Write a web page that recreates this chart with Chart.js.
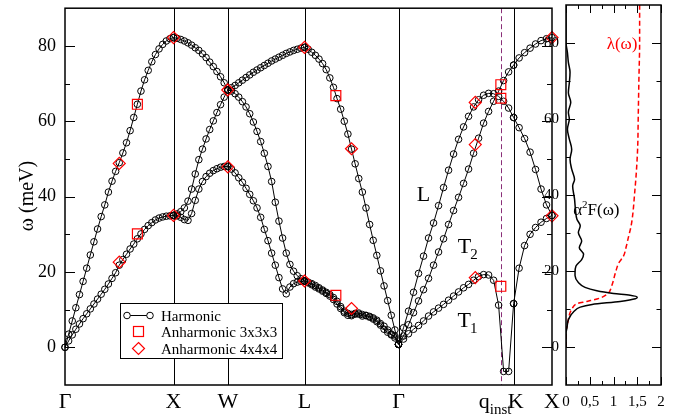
<!DOCTYPE html>
<html>
<head>
<meta charset="utf-8">
<script src="https://cdn.jsdelivr.net/npm/chart.js@4.4.1/dist/chart.umd.min.js"></script>
<style>
  body { margin: 0; background: #fff; }
  #wrap { position: relative; width: 687px; height: 416px; }
  #wrap canvas { position: absolute; left: 0; top: 0; }
</style>
</head>
<body>
<div id="wrap">
  <canvas id="main" width="687" height="416"></canvas>
  <canvas id="side" width="687" height="416"></canvas>
</div>
<script>
// high symmetry path (units of 2pi/a)
const symLabels = ['Γ', 'X', 'W', 'L', 'Γ', 'K', 'X'];
const symQ = [0, 1, 1.5, 2.2071, 3.0731, 4.1338, 4.4874];
const qInst = 4.0159;

const yMajor = [0, 20, 40, 60, 80];
const yMinor = [10, 30, 50, 70];
const sideXMajor = [0, 0.5, 1, 1.5, 2];
const sideXMinor = [0.25, 0.75, 1.25, 1.75];

// harmonic phonons, meV, one list per segment and branch
const gxL = [0, 3.5, 7, 10.5, 14, 17.5, 21, 24.5, 28, 31.4, 34.7, 37.8, 41.2, 44.1, 46.7, 49.0, 51.6, 54.3, 57.5, 61.0, 64.5, 68.0, 71.0, 73.5, 75.8, 77.7, 79.2, 80.4, 81.3, 81.9, 82.2];
const gxT = [0, 1.7, 3.3, 4.8, 6.2, 7.6, 8.9, 10.2, 11.5, 12.8, 14.1, 15.4, 16.8, 18.3, 19.8, 21.8, 23.3, 24.7, 26.1, 27.4, 28.8, 30.1, 31.3, 32.3, 33.1, 33.8, 34.3, 34.6, 34.8, 34.9, 35.0];

const xwL = [82.2, 82.0, 81.7, 81.3, 80.8, 80.2, 79.5, 78.8, 77.9, 76.9, 75.7, 74.5, 73.2, 71.8, 70.2, 68.3];
const xwT2 = [35.0, 35.4, 36.0, 37.0, 38.8, 42.0, 46.0, 49.8, 52.6, 55.3, 57.8, 60.1, 62.3, 64.4, 66.4, 68.3];
const xwT1 = [35.0, 34.9, 34.5, 33.9, 33.7, 35.5, 39.0, 42.0, 44.0, 45.3, 46.2, 46.9, 47.4, 47.8, 48.0, 48.0];

const wlUp = [68.3, 68.9, 69.5, 70.2, 70.9, 71.6, 72.3, 73.0, 73.6, 74.2, 74.8, 75.4, 76.0, 76.5, 77.0, 77.5, 78.0, 78.4, 78.8, 79.1, 79.4, 79.6];
const wlDown = [68.3, 68.0, 67.3, 66.4, 65.2, 63.8, 62.0, 59.8, 57.3, 54.6, 51.5, 48.0, 44.0, 38.5, 33.5, 29.0, 25.0, 22.0, 20.2, 19.0, 18.2, 17.6];
const wlDome = [48.0, 47.3, 46.3, 45.0, 43.8, 42.2, 40.6, 38.9, 37.0, 34.5, 31.3, 28.3, 25.0, 21.8, 18.5, 15.5, 14.2, 16.0, 16.9, 17.3, 17.5, 17.6];

const lgL = [79.6, 79.1, 78.3, 77.5, 76.5, 75.3, 73.7, 71.5, 69.0, 66.0, 63.2, 60.0, 56.6, 52.6, 48.7, 44.8, 41.2, 37.0, 32.6, 28.4, 24.4, 20.3, 16.3, 12.4, 8.5, 4.6, 0.8];
const lgT1 = [17.6, 17.3, 16.9, 16.4, 15.8, 15.2, 14.6, 14.0, 13.2, 12.2, 10.8, 9.6, 9.0, 8.7, 9.0, 9.1, 8.7, 8.5, 8.2, 7.8, 7.2, 6.3, 5.6, 4.6, 3.5, 2.5, 0.8];
const lgT2 = [17.6, 17.1, 16.6, 16.0, 15.5, 14.9, 14.3, 13.6, 12.7, 11.5, 10.3, 9.2, 8.5, 8.4, 8.8, 8.8, 8.3, 8.4, 8.0, 7.5, 6.8, 5.9, 4.8, 4.0, 3.3, 3.0, 0.8];

const gkL = [0.8, 5.2, 9.6, 14.6, 19.6, 24.2, 29.0, 33.0, 37.6, 42.4, 47.0, 51.3, 55.2, 58.5, 61.3, 63.8, 65.7, 66.9, 67.4, 67.3, 66.6, 65.3, 63.5, 61.0];
const gkT2 = [0.8, 3.0, 6.0, 9.2, 12.3, 15.3, 18.3, 21.8, 25.3, 28.8, 32.6, 36.3, 39.8, 43.5, 47.3, 51.5, 55.5, 59.5, 62.6, 65.3, 68.0, 70.8, 73.1, 74.9];
const gkT1 = [0.8, 2.2, 3.6, 4.8, 5.8, 7.0, 8.3, 9.4, 10.4, 11.4, 12.5, 13.6, 14.7, 15.8, 16.7, 17.8, 18.8, 19.3, 19.2, 17.8, 11.2, -6.4, -6.4, 11.6];

const kxL = [61.0, 58.3, 55.4, 51.8, 47.2, 42.0, 37.8, 35.0];
const kxT2 = [74.9, 76.8, 78.2, 79.4, 80.5, 81.4, 81.9, 82.2];
const kxT1 = [11.6, 21.0, 27.0, 30.0, 31.8, 33.2, 34.2, 35.0];

// anharmonic points
const anh3q = [0.667, 0.667, 2.4958, 2.4958, 4.0159, 4.0159, 4.0159];
const anh3w = [64.5, 30.1, 66.8, 13.8, 69.7, 66.1, 16.2];
const anh4q = [0.5, 0.5, 1, 1, 1.5, 1.5, 2.2071, 2.2071, 2.6401, 2.6401, 3.7802, 3.7802, 3.7802, 4.4874, 4.4874];
const anh4w = [48.8, 22.6, 82.2, 35.0, 68.3, 47.9, 79.6, 17.6, 52.7, 10.3, 65.0, 53.8, 18.5, 82.2, 34.9];

// Eliashberg function and lambda (right panel)
const a2fW = [0, 3, 3.7, 5, 7.2, 9.4, 10.5, 11.2, 12, 12.7, 13.1, 13.6, 14.1, 14.8, 15.7, 17, 18.8, 19.5, 21.3, 23, 24.4, 26.1, 27.9, 30.1, 31.9, 33.6, 36, 38.9, 42.4, 44.1, 46.8, 49.4, 52, 54.7, 57.3, 60, 61.8, 64.4, 66.9, 69.5, 72.3, 74.9, 77.5, 80.2, 90];
const a2fVal = [0, 0, 0, 0.02, 0.05, 0.17, 0.3, 0.55, 1.14, 1.46, 1.5, 1.35, 1.0, 0.65, 0.4, 0.26, 0.19, 0.19, 0.21, 0.33, 0.37, 0.28, 0.33, 0.26, 0.30, 0.23, 0.2, 0.18, 0.14, 0.18, 0.12, 0.085, 0.12, 0.07, 0.03, 0.07, 0.05, 0.1, 0.05, 0.07, 0.085, 0.05, 0.03, 0, 0];
const lamW = [0, 4, 5.9, 9, 10.5, 11.4, 12, 12.9, 14.2, 16, 19.5, 22.1, 23.9, 26.5, 29.2, 31.8, 35.4, 39.7, 45.9, 52.9, 60, 70.5, 80.2, 90];
const lamVal = [0, 0, 0.03, 0.085, 0.15, 0.23, 0.44, 0.72, 0.89, 0.96, 1.04, 1.11, 1.21, 1.27, 1.32, 1.37, 1.41, 1.44, 1.48, 1.51, 1.52, 1.535, 1.55, 1.55];

const SERIF = '"Liberation Serif", "Times New Roman", serif';
Chart.defaults.font.family = SERIF;
Chart.defaults.color = '#000';

function branch(seg, vals) {
  const q0 = symQ[seg], q1 = symQ[seg + 1], n = vals.length - 1;
  return vals.map((w, i) => ({ x: q0 + (q1 - q0) * i / n, y: w }));
}

const harmonic = [
  [0, gxL], [0, gxT],
  [1, xwL], [1, xwT2], [1, xwT1],
  [2, wlUp], [2, wlDown], [2, wlDome],
  [3, lgL], [3, lgT1], [3, lgT2],
  [4, gkL], [4, gkT2], [4, gkT1],
  [5, kxL], [5, kxT2], [5, kxT1]
];

function line(ctx, x1, y1, x2, y2) {
  ctx.beginPath(); ctx.moveTo(x1, y1); ctx.lineTo(x2, y2); ctx.stroke();
}

function text(ctx, s, x, y, size, align, color) {
  ctx.font = size + 'px ' + SERIF;
  ctx.textAlign = align || 'left';
  ctx.textBaseline = 'alphabetic';
  ctx.fillStyle = color || '#000';
  ctx.fillText(s, x, y);
  return ctx.measureText(s).width;
}

function yTicksInward(ctx, scale, a, len) {
  yMajor.forEach(v => {
    const py = Math.round(scale.getPixelForValue(v)) + 0.5;
    line(ctx, a.left, py, a.left + len, py);
    line(ctx, a.right, py, a.right - len, py);
  });
  yMinor.forEach(v => {
    const py = Math.round(scale.getPixelForValue(v)) + 0.5;
    line(ctx, a.left, py, a.left + len / 2, py);
    line(ctx, a.right, py, a.right - len / 2, py);
  });
}

// keep the plot area where the layout padding puts it
function noScalePad(s) {
  s.paddingTop = 0; s.paddingBottom = 0; s.paddingLeft = 0; s.paddingRight = 0;
}

const mainDecor = {
  id: 'mainDecor',
  beforeDatasetsDraw(chart) {
    const { ctx, chartArea: a, scales: { x } } = chart;
    ctx.save();
    ctx.strokeStyle = '#000';
    ctx.lineWidth = 1;
    symQ.slice(1, -1).forEach(q => {
      const px = Math.round(x.getPixelForValue(q)) + 0.5;
      line(ctx, px, a.top, px, a.bottom);
    });
    ctx.strokeStyle = '#8a2f78';
    ctx.setLineDash([5, 3]);
    const qx = Math.round(x.getPixelForValue(qInst)) + 0.5;
    line(ctx, qx, a.top, qx, a.bottom);
    ctx.restore();
  },
  afterDraw(chart) {
    const { ctx, chartArea: a, scales: { x, y } } = chart;
    ctx.save();
    ctx.strokeStyle = '#000';
    ctx.lineWidth = 1.5;
    ctx.strokeRect(a.left, a.top, a.right - a.left, a.bottom - a.top);
    ctx.lineWidth = 1;
    yTicksInward(ctx, y, a, 10);

    // path labels
    symLabels.forEach((s, i) => {
      if (i === 5) return;
      text(ctx, s, x.getPixelForValue(symQ[i]), 408, 22, 'center');
    });
    text(ctx, 'K', x.getPixelForValue(symQ[5]) + 2, 408, 22, 'center');
    const qx = x.getPixelForValue(qInst);
    const wq = text(ctx, 'q', qx - 22, 408, 22, 'left');
    text(ctx, 'inst', qx - 22 + wq, 414, 15, 'left');

    // branch labels
    text(ctx, 'L', x.getPixelForValue(3.303), y.getPixelForValue(40.7) + 7, 22, 'center');
    let px = x.getPixelForValue(3.62), py = y.getPixelForValue(27) + 7;
    let w = text(ctx, 'T', px, py, 22, 'left');
    text(ctx, '2', px + w - 1, py + 6, 15, 'left');
    px = x.getPixelForValue(3.617); py = y.getPixelForValue(7.2) + 7;
    w = text(ctx, 'T', px, py, 22, 'left');
    text(ctx, '1', px + w - 1, py + 6, 15, 'left');

    // y title
    ctx.save();
    ctx.translate(26, 196);
    ctx.rotate(-Math.PI / 2);
    text(ctx, 'ω (meV)', 0, 7, 20, 'center');
    ctx.restore();

    // legend
    const lx = 120, ly = 303, lw = 162, lh = 55;
    ctx.fillStyle = '#fff';
    ctx.fillRect(lx, ly, lw, lh);
    ctx.strokeStyle = '#000';
    ctx.lineWidth = 1;
    ctx.strokeRect(lx + 0.5, ly + 0.5, lw, lh);
    ctx.beginPath(); ctx.moveTo(127, 315.5); ctx.lineTo(150, 315.5); ctx.stroke();
    [127, 150].forEach(cx => { ctx.beginPath(); ctx.arc(cx, 315.5, 3.3, 0, 2 * Math.PI); ctx.fillStyle = '#fff'; ctx.fill(); ctx.stroke(); });
    ctx.strokeStyle = 'red';
    ctx.lineWidth = 1.2;
    ctx.strokeRect(133.5, 326.5, 10, 10);
    ctx.beginPath();
    ctx.moveTo(138.5, 342.5); ctx.lineTo(144.5, 348.5); ctx.lineTo(138.5, 354.5); ctx.lineTo(132.5, 348.5); ctx.closePath();
    ctx.stroke();
    text(ctx, 'Harmonic', 161, 320.5, 15);
    text(ctx, 'Anharmonic 3x3x3', 161, 337, 15);
    text(ctx, 'Anharmonic 4x4x4', 161, 353.5, 15);
    ctx.restore();
  }
};

const mainData = [
  {
    data: anh4q.map((q, i) => ({ x: q, y: anh4w[i] })),
    showLine: false, pointStyle: 'rectRot', pointRadius: 6,
    pointBorderColor: 'red', pointBackgroundColor: 'rgba(0,0,0,0)', pointBorderWidth: 1.2
  },
  {
    data: anh3q.map((q, i) => ({ x: q, y: anh3w[i] })),
    showLine: false, pointStyle: 'rect', pointRadius: 7,
    pointBorderColor: 'red', pointBackgroundColor: 'rgba(0,0,0,0)', pointBorderWidth: 1.2
  }
].concat(harmonic.map(([s, v]) => ({
  data: branch(s, v),
  showLine: true, borderColor: '#000', borderWidth: 1,
  pointStyle: 'circle', pointRadius: 3.3, pointBorderWidth: 1,
  pointBorderColor: '#000', pointBackgroundColor: 'rgba(0,0,0,0)'
})));
mainData.forEach(d => { d.clip = false; });

new Chart(document.getElementById('main'), {
  type: 'scatter',
  data: { datasets: mainData },
  options: {
    responsive: false,
    animation: false,
    events: [],
    layout: { padding: { left: 0, right: 135, top: 5, bottom: 31 } },
    plugins: { legend: { display: false }, tooltip: { enabled: false } },
    scales: {
      x: { type: 'linear', min: 0, max: symQ[symQ.length - 1], display: false },
      y: {
        type: 'linear', min: -10, max: 90,
        afterBuildTicks: s => { s.ticks = yMajor.map(v => ({ value: v })); },
        afterFit: s => { s.width = 65; noScalePad(s); },
        grid: { display: false, drawTicks: false },
        border: { display: false },
        ticks: { font: { size: 18 }, padding: 9, color: '#000' }
      }
    }
  },
  plugins: [mainDecor]
});

const sideDecor = {
  id: 'sideDecor',
  afterDraw(chart) {
    const { ctx, chartArea: a, scales: { x, y } } = chart;
    ctx.save();
    ctx.strokeStyle = '#000';
    ctx.lineWidth = 1.5;
    ctx.strokeRect(a.left, a.top, a.right - a.left, a.bottom - a.top);
    ctx.lineWidth = 1;
    yTicksInward(ctx, y, a, 9);
    sideXMajor.forEach(v => {
      const px = Math.round(x.getPixelForValue(v)) + 0.5;
      line(ctx, px, a.bottom, px, a.bottom - 8);
      line(ctx, px, a.top, px, a.top + 8);
    });
    sideXMinor.forEach(v => {
      const px = Math.round(x.getPixelForValue(v)) + 0.5;
      line(ctx, px, a.bottom, px, a.bottom - 4);
      line(ctx, px, a.top, px, a.top + 4);
    });
    let px = x.getPixelForValue(0.15), py = y.getPixelForValue(36) + 5;
    let w = text(ctx, 'α', px, py, 17);
    w += text(ctx, '2', px + w, py - 7, 11);
    text(ctx, 'F(ω)', px + w, py, 17);
    text(ctx, 'λ(ω)', x.getPixelForValue(1.18), y.getPixelForValue(79.8) + 5, 17, 'center', 'red');
    ctx.restore();
  }
};

new Chart(document.getElementById('side'), {
  type: 'line',
  data: {
    datasets: [
      {
        data: a2fW.map((w, i) => ({ x: a2fVal[i], y: w })),
        borderColor: '#000', borderWidth: 1.5, pointRadius: 0,
        cubicInterpolationMode: 'monotone'
      },
      {
        data: lamW.map((w, i) => ({ x: lamVal[i], y: w })),
        borderColor: 'red', borderWidth: 1.5, borderDash: [5, 3], pointRadius: 0,
        cubicInterpolationMode: 'monotone'
      }
    ]
  },
  options: {
    indexAxis: 'y',
    responsive: false,
    animation: false,
    events: [],
    layout: { padding: { left: 526, right: 26, top: 5, bottom: 0 } },
    plugins: { legend: { display: false }, tooltip: { enabled: false } },
    scales: {
      x: {
        type: 'linear', min: 0, max: 2, position: 'bottom',
        afterBuildTicks: s => { s.ticks = sideXMajor.map(v => ({ value: v })); },
        afterFit: s => { s.height = 31; noScalePad(s); },
        grid: { display: false, drawTicks: false },
        border: { display: false },
        ticks: { font: { size: 15 }, padding: 8, color: '#000', maxRotation: 0,
                 callback: v => String(v).replace('.', ',') }
      },
      y: {
        type: 'linear', min: -10, max: 90,
        afterBuildTicks: s => { s.ticks = yMajor.map(v => ({ value: v })); },
        afterFit: s => { s.width = 40; noScalePad(s); },
        grid: { display: false, drawTicks: false },
        border: { display: false },
        ticks: { font: { size: 15 }, padding: 7, color: '#000' }
      }
    }
  },
  plugins: [sideDecor]
});
</script>
</body>
</html>
